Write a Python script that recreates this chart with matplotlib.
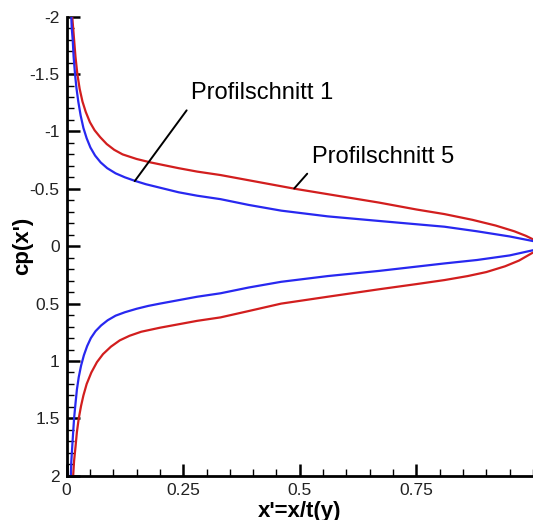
import matplotlib
matplotlib.use("Agg")
import matplotlib.pyplot as plt
from matplotlib.ticker import MultipleLocator, FixedLocator

plt.rcParams['font.family'] = ['Liberation Sans', 'DejaVu Sans']

# Profilschnitt 5 (red)
red_up_x = [0.012, 0.014, 0.016, 0.019, 0.023, 0.028, 0.034, 0.041, 0.050, 0.060, 0.072, 0.086, 0.102, 0.12, 0.15, 0.18, 0.21, 0.24, 0.28, 0.33, 0.41, 0.49, 0.58, 0.67, 0.75, 0.81, 0.87, 0.92, 0.96, 0.985, 1.0]
red_up_cp = [-2.0, -1.9, -1.8, -1.65, -1.5, -1.37, -1.26, -1.17, -1.08, -1.01, -0.95, -0.89, -0.84, -0.80, -0.76, -0.73, -0.705, -0.68, -0.65, -0.62, -0.56, -0.50, -0.44, -0.38, -0.32, -0.28, -0.23, -0.18, -0.13, -0.09, -0.06]
red_lo_x = [0.014, 0.016, 0.019, 0.022, 0.026, 0.031, 0.036, 0.043, 0.053, 0.065, 0.078, 0.095, 0.114, 0.135, 0.16, 0.20, 0.24, 0.28, 0.33, 0.39, 0.46, 0.56, 0.67, 0.75, 0.81, 0.86, 0.90, 0.94, 0.97, 1.0]
red_lo_cp = [2.0, 1.87, 1.75, 1.62, 1.5, 1.39, 1.30, 1.20, 1.10, 1.01, 0.94, 0.875, 0.82, 0.78, 0.745, 0.71, 0.68, 0.65, 0.62, 0.565, 0.50, 0.44, 0.375, 0.33, 0.295, 0.26, 0.225, 0.175, 0.125, 0.055]

# Profilschnitt 1 (blue)
blue_up_x = [0.010, 0.011, 0.013, 0.015, 0.018, 0.021, 0.025, 0.030, 0.036, 0.043, 0.051, 0.061, 0.073, 0.087, 0.105, 0.125, 0.146, 0.17, 0.19, 0.215, 0.24, 0.28, 0.33, 0.39, 0.46, 0.56, 0.67, 0.81, 0.88, 0.95, 1.0]
blue_up_cp = [-2.0, -1.9, -1.8, -1.65, -1.5, -1.38, -1.26, -1.14, -1.03, -0.94, -0.86, -0.79, -0.73, -0.68, -0.635, -0.60, -0.57, -0.54, -0.52, -0.495, -0.47, -0.44, -0.41, -0.36, -0.31, -0.26, -0.22, -0.17, -0.13, -0.085, -0.045]
blue_lo_x = [0.009, 0.010, 0.012, 0.014, 0.016, 0.019, 0.022, 0.026, 0.031, 0.037, 0.044, 0.052, 0.062, 0.074, 0.088, 0.105, 0.125, 0.15, 0.175, 0.20, 0.24, 0.28, 0.33, 0.39, 0.46, 0.56, 0.67, 0.81, 0.88, 0.95, 1.0]
blue_lo_cp = [2.0, 1.88, 1.75, 1.62, 1.5, 1.37, 1.25, 1.14, 1.04, 0.95, 0.87, 0.80, 0.74, 0.69, 0.645, 0.605, 0.575, 0.545, 0.52, 0.50, 0.47, 0.44, 0.41, 0.36, 0.31, 0.26, 0.215, 0.15, 0.12, 0.08, 0.035]

x_major = [0, 0.25, 0.5, 0.75]
x_labels = ['0', '0.25', '0.5', '0.75']
y_major = [-2, -1.5, -1, -0.5, 0, 0.5, 1, 1.5, 2]
y_labels = ['-2', '-1.5', '-1', '-0.5', '0', '0.5', '1', '1.5', '2']

fig = plt.figure(figsize=(5.33, 5.2), dpi=100)
ax = fig.add_axes([0.125, 0.085, 0.875, 0.883])

red = '#d21e1e'
blue = '#2828f0'
for xs, ys, c in [(red_up_x, red_up_cp, red), (red_lo_x, red_lo_cp, red),
                  (blue_up_x, blue_up_cp, blue), (blue_lo_x, blue_lo_cp, blue)]:
    ax.plot(xs, ys, color=c, lw=1.6, solid_joinstyle='round')

ax.set_xlim(0, 1)
ax.set_ylim(2, -2)

ax.spines['top'].set_visible(False)
ax.spines['right'].set_visible(False)
for s in ('left', 'bottom'):
    ax.spines[s].set_linewidth(2.0)

ax.xaxis.set_major_locator(FixedLocator(x_major))
ax.set_xticklabels(x_labels)
ax.xaxis.set_minor_locator(MultipleLocator(0.05))
ax.yaxis.set_major_locator(FixedLocator(y_major))
ax.set_yticklabels(y_labels)
ax.yaxis.set_minor_locator(MultipleLocator(0.1))

ax.tick_params(which='major', direction='in', length=9, width=1.8, labelsize=12.5,
               colors='black', labelcolor='#222222', pad=5)
ax.tick_params(which='minor', direction='in', length=5, width=1.0)

ax.set_xlabel("x'=x/t(y)", fontsize=16, fontweight='bold', labelpad=2)
ax.set_ylabel("cp(x')", fontsize=16, fontweight='bold')
ax.yaxis.set_label_coords(-0.072, 0.5)

# annotations
ax.annotate('Profilschnitt 1', xy=(0.146, -0.567), xytext=(0.267, -1.333),
            fontsize=17, va='center', ha='left',
            arrowprops=dict(arrowstyle='-', color='black', lw=1.4, shrinkA=3, shrinkB=0,
                            relpos=(0, 0)))
ax.annotate('Profilschnitt 5', xy=(0.488, -0.503), xytext=(0.527, -0.779),
            fontsize=17, va='center', ha='left',
            arrowprops=dict(arrowstyle='-', color='black', lw=1.4, shrinkA=3, shrinkB=0,
                            relpos=(0, 0)))

fig.savefig('out.png', dpi=100)
